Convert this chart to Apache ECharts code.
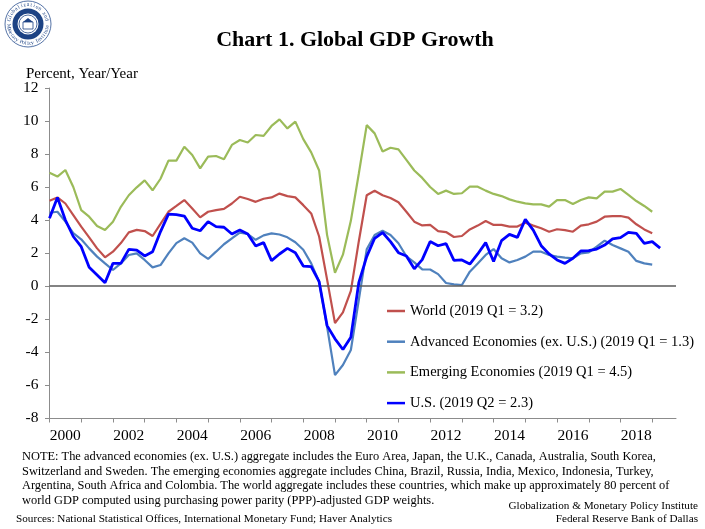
<!DOCTYPE html>
<html><head><meta charset="utf-8">
<script src="https://cdn.jsdelivr.net/npm/echarts@6/dist/echarts.min.js"></script>
<style>html,body{margin:0;padding:0;background:#fff}#c{width:705px;height:529px}</style>
</head><body><div id="c"></div>
<script>
// ---- data (year-over-year % growth, quarterly from 2000 Q1) ----
const startYear = 2000;
const worldValues = [5.17,5.37,5.0,4.3,3.6,2.95,2.28,1.74,2.08,2.6,3.25,3.4,3.33,3.03,3.76,4.5,
  4.85,5.21,4.7,4.16,4.5,4.6,4.67,5.0,5.41,5.27,5.1,5.29,5.37,5.6,5.45,5.37,
  4.9,4.4,3.0,0.4,-2.25,-1.6,-0.3,2.7,5.5,5.77,5.5,5.33,5.08,4.5,3.9,3.67,
  3.7,3.33,3.27,2.97,3.03,3.43,3.66,3.94,3.7,3.7,3.6,3.6,3.84,3.66,3.5,3.29,
  3.44,3.39,3.29,3.66,3.74,3.9,4.2,4.24,4.24,4.14,3.74,3.43,3.2];
const advancedValues = [4.44,4.5,3.9,3.2,2.83,2.28,1.78,1.37,0.97,1.37,1.88,1.98,1.58,1.13,1.27,1.98,
  2.6,2.89,2.63,1.98,1.64,2.08,2.53,2.89,3.23,3.15,2.8,3.07,3.19,3.12,2.95,2.65,
  2.2,1.37,0.26,-2.46,-5.4,-4.79,-3.88,-0.85,2.22,3.09,3.35,3.09,2.59,1.8,1.43,1.01,
  1.0,0.72,0.18,0.1,0.06,0.87,1.37,1.88,2.24,1.68,1.43,1.58,1.78,2.08,2.08,1.88,
  1.78,1.72,1.68,1.98,2.04,2.38,2.75,2.48,2.28,2.08,1.52,1.37,1.3];
const emergingValues = [6.87,6.63,7.03,6.0,4.6,4.2,3.64,3.4,3.9,4.8,5.5,5.98,6.4,5.8,6.5,7.6,
  7.6,8.44,7.94,7.13,7.84,7.88,7.68,8.55,8.85,8.7,9.15,9.1,9.7,10.1,9.55,9.96,
  8.9,8.1,7.0,3.1,0.8,1.9,3.95,6.8,9.75,9.25,8.15,8.38,8.28,7.64,7.0,6.55,
  6.0,5.58,5.78,5.58,5.62,6.02,6.02,5.78,5.58,5.45,5.25,5.11,5.01,4.95,4.95,4.81,
  5.2,5.21,4.97,5.21,5.37,5.31,5.72,5.72,5.88,5.52,5.15,4.85,4.5];
const usValues = [4.1,5.37,4.0,3.0,2.38,1.13,0.67,0.2,1.37,1.37,2.22,2.18,1.82,2.08,3.3,4.36,
  4.33,4.24,3.5,3.35,3.9,3.6,3.56,3.15,3.39,3.15,2.42,2.63,1.54,1.94,2.28,2.02,
  1.21,1.17,0.26,-2.4,-3.2,-3.85,-3.1,0.2,1.78,2.89,3.24,2.69,2.02,1.82,1.04,1.6,
  2.69,2.44,2.57,1.55,1.58,1.33,1.94,2.63,1.48,2.75,3.13,2.95,4.04,3.39,2.44,1.94,
  1.58,1.37,1.68,2.12,2.14,2.24,2.48,2.85,2.93,3.25,3.19,2.59,2.69,2.3];
const seriesNames = ['World (2019 Q1 = 3.2)','Advanced Economies (ex. U.S.) (2019 Q1 = 1.3)',
  'Emerging Economies (2019 Q1 = 4.5)','U.S. (2019 Q2 = 2.3)'];
const yearTicks = [2000,2001,2002,2003,2004,2005,2006,2007,2008,2009,2010,2011,2012,2013,2014,2015,2016,2017,2018,2019];
const yearLabels = ['2000','2002','2004','2006','2008','2010','2012','2014','2016','2018'];

// quarter categories
const quarters = [];
for (let y = startYear; y <= 2019; y++) for (let q = 1; q <= 4; q++) quarters.push(y + ' Q' + q);
function qx(label){ const p = label.split(' Q'); return Number(p[0]) + (Number(p[1]) - 1) / 4; }
function pairs(vals){ return vals.map((v,i)=>[qx(quarters[i]), v]); }

const FONT = 'Liberation Serif';
const colors = ['#C0504D','#4F81BD','#9BBB59','#0000FF'];
const valueSets = [worldValues, advancedValues, emergingValues, usValues];

// logo
const logoEls = [];
const cx = 28, cy = 24;
logoEls.push({type:'circle', shape:{cx:cx, cy:cy, r:23}, style:{fill:'#fff', stroke:'#2a4f8f', lineWidth:0.8}});
logoEls.push({type:'circle', shape:{cx:cx, cy:cy, r:15.5}, style:{fill:'#1d4384'}});
logoEls.push({type:'circle', shape:{cx:cx, cy:cy, r:10.5}, style:{fill:'#fff'}});
logoEls.push({type:'circle', shape:{cx:cx, cy:cy, r:9}, style:{fill:'none', stroke:'#1d4384', lineWidth:0.8}});
logoEls.push({type:'rect', shape:{x:cx-5, y:cy-2, width:10, height:7}, style:{fill:'none', stroke:'#1d4384', lineWidth:0.8}});
logoEls.push({type:'polygon', shape:{points:[[cx-5,cy-2],[cx,cy-6],[cx+5,cy-2]]}, style:{fill:'#1d4384'}});
function arcText(str, r, a0, a1, top){
  const n = str.length;
  for (let k = 0; k < n; k++){
    const t = a0 + (a1 - a0) * (k + 0.5) / n;
    logoEls.push({type:'text', x: cx + r*Math.cos(t), y: cy + r*Math.sin(t),
      rotation: top ? -(t + Math.PI/2) : -(t - Math.PI/2),
      style:{text:str[k], fontSize:5.5, fontFamily:FONT, fill:'#1d4384', textAlign:'center', textVerticalAlign:'middle'}});
  }
}
arcText('Globalization and', 19.3, -Math.PI*0.95, -Math.PI*0.05, true);
arcText('Monetary Policy Institute', 19.3, Math.PI*0.98, Math.PI*0.02, false);

const noteLines = [
  'NOTE: The advanced economies (ex. U.S.) aggregate includes the Euro Area, Japan, the U.K., Canada, Australia, South Korea,',
  'Switzerland and Sweden. The emerging economies aggregate includes China, Brazil, Russia, India, Mexico, Indonesia, Turkey,',
  'Argentina, South Africa and Colombia. The world aggregate includes these countries, which make up approximately 80 percent of',
  'world GDP computed using purchasing power parity (PPP)-adjusted GDP weights.'
];
const textEls = [
  {type:'text', x:355, y:40, style:{text:'Chart 1. Global GDP Growth', fontFamily:FONT, fontSize:22, fontWeight:'bold', fill:'#000', textAlign:'center', textVerticalAlign:'middle'}},
  {type:'text', x:26, y:74, style:{text:'Percent, Year/Year', fontFamily:FONT, fontSize:15, fill:'#000', textAlign:'left', textVerticalAlign:'middle'}},
  {type:'text', x:16, y:519, style:{text:'Sources: National Statistical Offices, International Monetary Fund; Haver Analytics', fontFamily:FONT, fontSize:11.2, fill:'#000', textAlign:'left', textVerticalAlign:'middle'}},
  {type:'text', x:698, y:506, style:{text:'Globalization & Monetary Policy Institute', fontFamily:FONT, fontSize:11.2, fill:'#000', textAlign:'right', textVerticalAlign:'middle'}},
  {type:'text', x:698, y:519, style:{text:'Federal Reserve Bank of Dallas', fontFamily:FONT, fontSize:11.2, fill:'#000', textAlign:'right', textVerticalAlign:'middle'}}
];
noteLines.forEach((t,i)=>textEls.push({type:'text', x:22, y:457 + i*14.6,
  style:{text:t, fontFamily:FONT, fontSize:12.4, fill:'#000', textAlign:'left', textVerticalAlign:'middle'}}));

const chart = echarts.init(document.getElementById('c'), null, {renderer:'canvas'});
chart.setOption({
  animation:false,
  backgroundColor:'#fff',
  grid:{left:49.5, right:29, top:88, bottom:111, containLabel:false},
  legend:{
    orient:'vertical', left:382, top:298, itemWidth:18, itemHeight:2.5, itemGap:14.7, icon:'rect',
    data: seriesNames,
    textStyle:{fontFamily:FONT, fontSize:14.5, color:'#000', lineHeight:16}
  },
  xAxis:{
    type:'value', min:2000, max:2019.75,
    axisLine:{show:true, onZero:false, lineStyle:{color:'#8c8c8c', width:1}},
    axisTick:{show:true, inside:false, length:4.5, lineStyle:{color:'#8c8c8c'}, customValues: yearTicks},
    axisLabel:{show:true, fontFamily:FONT, fontSize:15.5, color:'#000', margin:10,
      customValues: yearLabels.map(s=>Number(s)+0.5),
      formatter: v => String(Math.floor(v))},
    splitLine:{show:false}
  },
  yAxis:{
    type:'value', min:-8, max:12, interval:2,
    axisLine:{show:true, lineStyle:{color:'#8c8c8c', width:1}},
    axisTick:{show:true, inside:false, length:4.5, lineStyle:{color:'#8c8c8c'}},
    axisLabel:{fontFamily:FONT, fontSize:15.5, color:'#000', margin:11},
    splitLine:{show:false}
  },
  graphic: logoEls.concat(textEls),
  series: valueSets.map((vals,k)=>({
    name: seriesNames[k], type:'line', data: pairs(vals), showSymbol:false, symbol:'none',
    lineStyle:{color:colors[k], width: k===3 ? 2.8 : 2.2}, itemStyle:{color:colors[k]},
    z: 2 + k,
    markLine: k===0 ? {silent:true, symbol:'none', label:{show:false},
      lineStyle:{color:'#5a5a5a', width:1.5, type:'solid'}, data:[{yAxis:0}]} : undefined
  }))
});
</script></body></html>
